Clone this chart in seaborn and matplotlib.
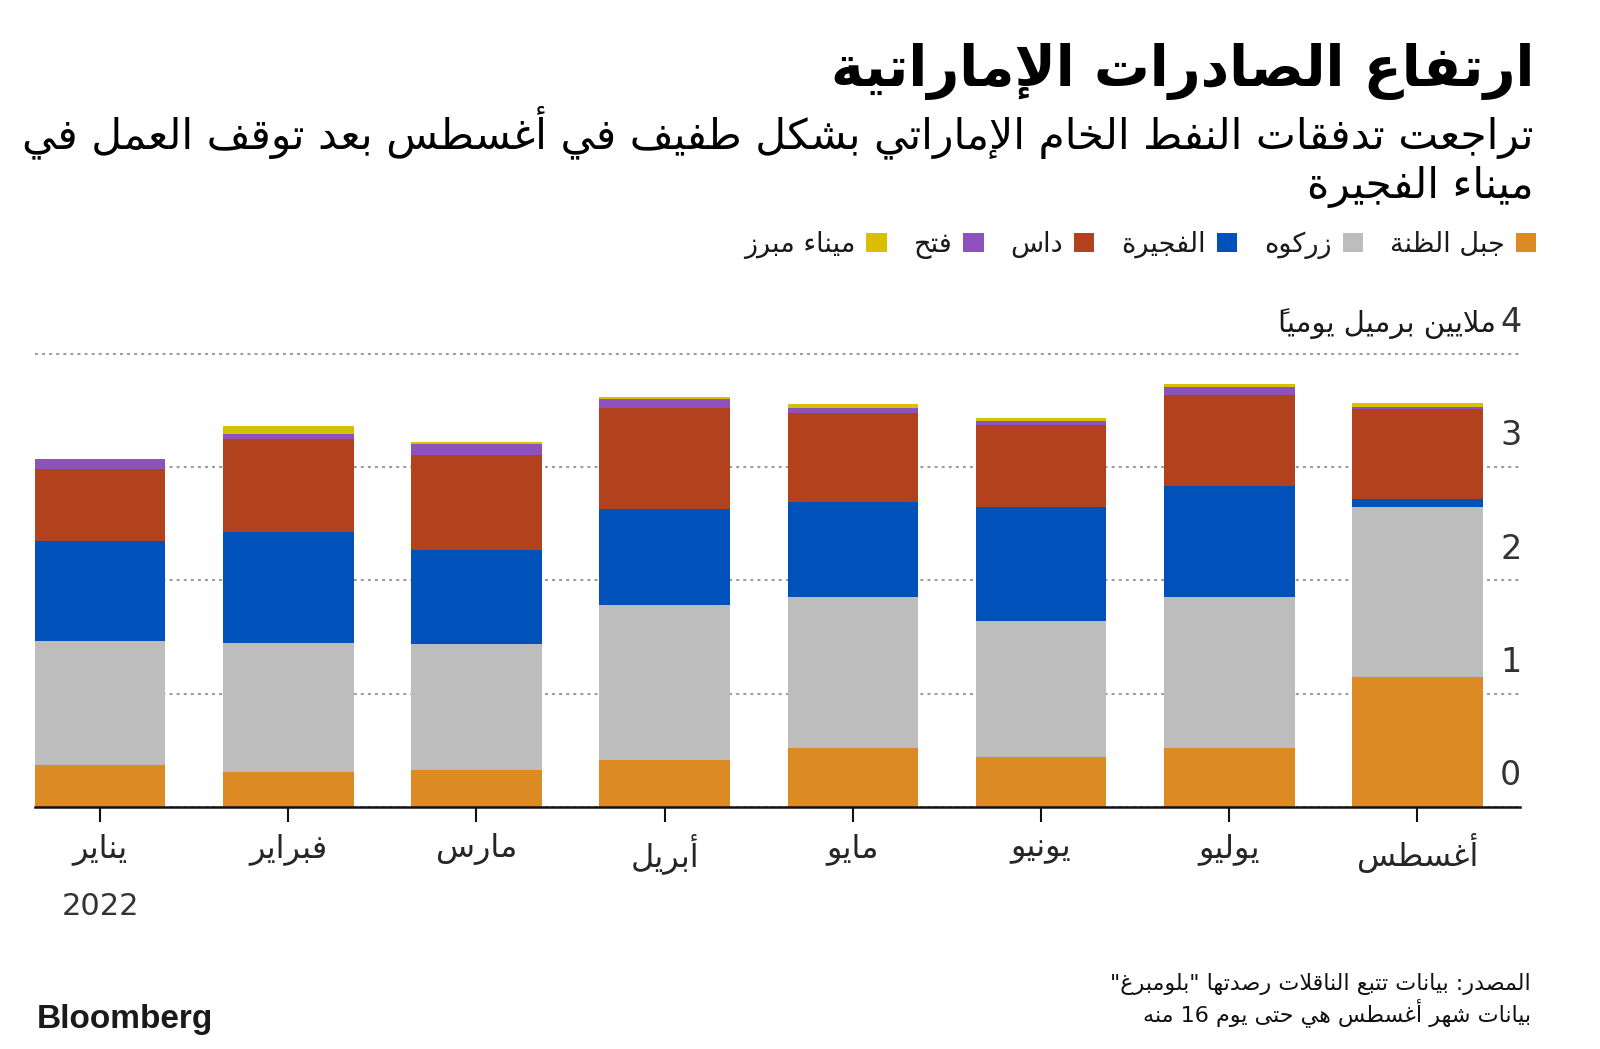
import numpy as np
import pandas as pd
import matplotlib
matplotlib.use("Agg")
import matplotlib.pyplot as plt
import seaborn as sns
from matplotlib.patches import Patch

# ============================================================
# DATA  (million barrels per day)
# ============================================================

months = ["يناير", "فبراير", "مارس", "أبريل", "مايو", "يونيو", "يوليو", "أغسطس"]
ports = ["جبل الظنة", "زركوه", "الفجيرة", "داس", "فتح", "ميناء مبرز"]
port_colors = ["#DB8A24", "#BDBDBD", "#0051BA", "#B2411E", "#8E52BC", "#D8BF00"]

jebel_dhanna = [0.37, 0.31, 0.32, 0.41, 0.52, 0.44, 0.52, 1.15]
zirku = [1.09, 1.14, 1.12, 1.37, 1.33, 1.20, 1.33, 1.50]
fujairah = [0.89, 0.98, 0.83, 0.85, 0.84, 1.01, 0.98, 0.07]
das = [0.63, 0.82, 0.84, 0.89, 0.79, 0.72, 0.81, 0.79]
fath = [0.09, 0.04, 0.09, 0.08, 0.04, 0.04, 0.07, 0.02]
mubarraz = [0.00, 0.07, 0.02, 0.02, 0.04, 0.02, 0.02, 0.04]

yticks = [0, 1, 2, 3, 4]
year_label = "2022"

title = "ارتفاع الصادرات الإماراتية"
subtitle_1 = "تراجعت تدفقات النفط الخام الإماراتي بشكل طفيف في أغسطس بعد توقف العمل في"
subtitle_2 = "ميناء الفجيرة"
unit_label = "ملايين برميل يومياً"
source_1 = "المصدر: بيانات تتبع الناقلات رصدتها \"بلومبرغ\""
source_2 = "بيانات شهر أغسطس هي حتى يوم 16 منه"

# ============================================================
# ARABIC SHAPING (matplotlib has no text shaping / bidi)
# ============================================================

_LETTERS = [
    ("ء", "U"), ("آ", "R"), ("أ", "R"), ("ؤ", "R"), ("إ", "R"), ("ئ", "D"),
    ("ا", "R"), ("ب", "D"), ("ة", "R"), ("ت", "D"), ("ث", "D"), ("ج", "D"),
    ("ح", "D"), ("خ", "D"), ("د", "R"), ("ذ", "R"), ("ر", "R"), ("ز", "R"),
    ("س", "D"), ("ش", "D"), ("ص", "D"), ("ض", "D"), ("ط", "D"), ("ظ", "D"),
    ("ع", "D"), ("غ", "D"), ("ف", "D"), ("ق", "D"), ("ك", "D"), ("ل", "D"),
    ("م", "D"), ("ن", "D"), ("ه", "D"), ("و", "R"), ("ى", "R"), ("ي", "D"),
]
AR = {}
_code = 0xFE80
for _ch, _t in _LETTERS:
    AR[_ch] = (_code, _t)
    _code += {"U": 1, "R": 2, "D": 4}[_t]

LAM_ALEF = {"آ": 0xFEF5, "أ": 0xFEF7, "إ": 0xFEF9, "ا": 0xFEFB}
MARKS = set("\u064B\u064C\u064D\u064E\u064F\u0650\u0651\u0652")


def _jtype(c):
    if c in AR:
        return AR[c][1]
    if c in MARKS:
        return "T"
    return None


def shape(text):
    chars = list(text)
    n = len(chars)
    out = []
    i = 0
    while i < n:
        c = chars[i]
        t = _jtype(c)
        if t is None or t == "T":
            out.append(c)
            i += 1
            continue
        j = i - 1
        while j >= 0 and _jtype(chars[j]) == "T":
            j -= 1
        joins_prev = j >= 0 and _jtype(chars[j]) == "D"
        k = i + 1
        while k < n and _jtype(chars[k]) == "T":
            k += 1
        nxt = chars[k] if k < n else None
        if c == "ل" and nxt in LAM_ALEF:
            out.append(chr(LAM_ALEF[nxt] + (1 if joins_prev else 0)))
            i = k + 1
            continue
        joins_next = t == "D" and nxt is not None and _jtype(nxt) in ("D", "R")
        base = AR[c][0]
        if t == "U":
            form = 0
        elif joins_prev and joins_next:
            form = 3
        elif joins_prev:
            form = 1
        elif joins_next:
            form = 2
        else:
            form = 0
        out.append(chr(base + form))
        i += 1
    return "".join(out)


def ar(text):
    # shape, then reverse the right-to-left runs; digit runs keep their order.
    # Marks end up in front of their letter, which is where DejaVu draws them.
    s = shape(text)
    runs = []
    for ch in s:
        ltr = ch.isascii() and ch.isalnum()
        if runs and runs[-1][0] == ltr:
            runs[-1][1].append(ch)
        else:
            runs.append((ltr, [ch]))
    out = []
    for ltr, chs in reversed(runs):
        out.extend(chs if ltr else reversed(chs))
    return "".join(out)


# ============================================================
# STYLE
# ============================================================

sns.set_theme(style="white")
plt.rcParams["font.family"] = ["DejaVu Sans"]
plt.rcParams["text.color"] = "#1a1a1a"

W, H = 1600, 1049


def fx(px):
    return px / W


def fy(py):
    return 1 - py / H


# ============================================================
# FIGURE
# ============================================================

df = pd.DataFrame(
    {
        ports[0]: jebel_dhanna,
        ports[1]: zirku,
        ports[2]: fujairah,
        ports[3]: das,
        ports[4]: fath,
        ports[5]: mubarraz,
    },
    index=months,
)
tops = df.cumsum(axis=1)

fig = plt.figure(figsize=(W / 100, H / 100), dpi=100)

y0_px, unit_px = 806.7, 113.2
ymax = 4.05
ax = fig.add_axes([fx(34.7), fy(y0_px), fx(1520) - fx(34.7), ymax * unit_px / H])

# stacked bars: draw cumulative heights from the top layer down
for port, color in reversed(list(zip(ports, port_colors))):
    sns.barplot(
        x=np.arange(len(months)),
        y=tops[port].values,
        color=color,
        saturation=1,
        width=0.694,
        linewidth=0,
        errorbar=None,
        ax=ax,
    )

ax.set_xlim(-0.347, 7.545)
ax.set_ylim(0, ymax)

ax.set_yticks(yticks)
ax.yaxis.grid(True, color="#9c9c9c", linestyle=(0, (1.4, 2.0)), linewidth=1.5)
ax.xaxis.grid(False)
ax.set_axisbelow(True)
ax.tick_params(axis="y", length=0, labelleft=False)

for s in ["top", "left", "right"]:
    ax.spines[s].set_visible(False)
ax.spines["bottom"].set_color("#111111")
ax.spines["bottom"].set_linewidth(1.8)

ax.set_xticks(np.arange(len(months)))
ax.set_xticklabels([ar(m) for m in months], fontsize=23)
ax.tick_params(axis="x", direction="out", length=11, width=1.5,
               color="#111111", pad=8, bottom=True)
ax.set_xlabel("")
ax.set_ylabel("")

ax.annotate(year_label, xy=(0, 0), xycoords=("data", "axes fraction"),
            xytext=(0, -78), textcoords="offset points",
            ha="center", va="baseline", fontsize=22, color="#333333")

# y tick labels sit just above their gridlines at the right edge
for v in yticks:
    ax.annotate(str(v), xy=(1.0, v), xycoords=("axes fraction", "data"),
                xytext=(1, 15.6), textcoords="offset points",
                ha="right", va="baseline", fontsize=24, color="#333333")

ax.annotate(ar(unit_label), xy=(1.0, 4), xycoords=("axes fraction", "data"),
            xytext=(-17, 15.6), textcoords="offset points",
            ha="right", va="baseline", fontsize=21, color="#1a1a1a")

# ============================================================
# TEXT
# ============================================================

fig.text(fx(1534), fy(86), ar(title), ha="right", va="baseline",
         fontsize=40, fontweight="bold", color="#000000")
fig.text(fx(1534), fy(148), ar(subtitle_1), ha="right", va="baseline",
         fontsize=30.5, color="#000000")
fig.text(fx(1534), fy(198), ar(subtitle_2), ha="right", va="baseline",
         fontsize=30.5, color="#000000")

handles = [Patch(facecolor=c, edgecolor="none", label=ar(p))
           for p, c in zip(ports, port_colors)]
fig.legend(
    handles=handles[::-1],
    loc="center right",
    bbox_to_anchor=(fx(1536), fy(245)),
    ncol=len(ports),
    frameon=False,
    markerfirst=False,
    handlelength=0.75,
    handleheight=0.75,
    handletextpad=0.4,
    columnspacing=1.0,
    fontsize=19.5,
    borderaxespad=0,
    borderpad=0,
)

fig.text(fx(1531), fy(990), ar(source_1), ha="right", va="baseline",
         fontsize=16, color="#111111")
fig.text(fx(1531), fy(1021), ar(source_2), ha="right", va="baseline",
         fontsize=16, color="#111111")

fig.text(fx(37), fy(1028), "Bloomberg", ha="left", va="baseline",
         fontsize=24, fontweight="bold", family="Liberation Sans",
         color="#1a1a1a")

fig.savefig("out.png", dpi=100)
